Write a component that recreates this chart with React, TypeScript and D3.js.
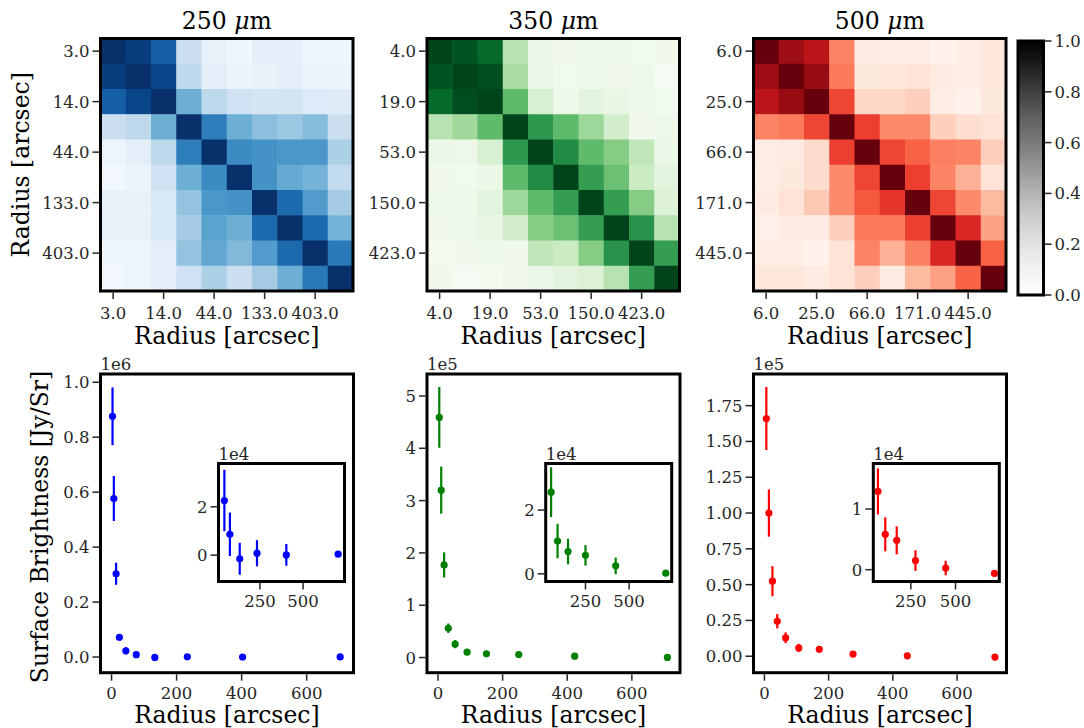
import React from 'react';
import * as d3 from 'd3';

// ---------------- DATA ----------------
const radii250 = [3, 7, 14, 24, 44, 76, 133, 233, 403, 703];
const radii350 = [4, 10, 19, 32, 53, 90, 150, 250, 423, 710];
const radii500 = [6, 14, 25, 40, 66, 107, 171, 276, 445, 718];

const sb250 = [876000, 577000, 303000, 72000, 22600, 8600, -1500, 800, 100, 400];
const err250 = [105000, 82000, 40000, 11000, 12700, 9000, 6600, 5400, 4500, 300];
const sb350 = [459000, 320000, 177000, 56000, 25600, 10300, 7000, 5800, 2500, 200];
const err350 = [58000, 45000, 24000, 9000, 7800, 5400, 4000, 3200, 2600, 200];
const sb500 = [166000, 100000, 52400, 24400, 12900, 5830, 4830, 1500, 270, -620];
const err500 = [22000, 16500, 10500, 5000, 3800, 2800, 2300, 1700, 1200, 200];

const corr250 = [
  [1.0, 0.95, 0.82, 0.22, 0.08, 0.04, 0.1, 0.09, 0.05, 0.04],
  [0.95, 1.0, 0.92, 0.27, 0.1, 0.06, 0.08, 0.1, 0.06, 0.06],
  [0.82, 0.92, 1.0, 0.5, 0.27, 0.2, 0.17, 0.18, 0.13, 0.12],
  [0.22, 0.27, 0.5, 1.0, 0.7, 0.5, 0.42, 0.38, 0.43, 0.22],
  [0.05, 0.1, 0.27, 0.7, 1.0, 0.65, 0.62, 0.6, 0.6, 0.33],
  [0.03, 0.06, 0.2, 0.5, 0.65, 1.0, 0.62, 0.52, 0.48, 0.25],
  [0.08, 0.08, 0.15, 0.4, 0.6, 0.62, 1.0, 0.78, 0.58, 0.35],
  [0.08, 0.08, 0.15, 0.35, 0.55, 0.5, 0.78, 1.0, 0.78, 0.48],
  [0.04, 0.05, 0.1, 0.4, 0.53, 0.45, 0.58, 0.78, 1.0, 0.72],
  [0.03, 0.05, 0.1, 0.2, 0.33, 0.22, 0.35, 0.5, 0.72, 1.0],
];
const corr350 = [
  [1.0, 0.95, 0.88, 0.3, 0.08, 0.05, 0.07, 0.06, 0.04, 0.05],
  [0.95, 1.0, 0.97, 0.35, 0.08, 0.04, 0.06, 0.05, 0.06, 0.02],
  [0.88, 0.97, 1.0, 0.55, 0.18, 0.07, 0.13, 0.1, 0.06, 0.04],
  [0.3, 0.37, 0.55, 1.0, 0.7, 0.55, 0.38, 0.2, 0.05, 0.06],
  [0.08, 0.07, 0.18, 0.7, 1.0, 0.75, 0.55, 0.45, 0.27, 0.08],
  [0.05, 0.04, 0.08, 0.55, 0.75, 1.0, 0.68, 0.52, 0.23, 0.13],
  [0.07, 0.07, 0.13, 0.38, 0.55, 0.68, 1.0, 0.68, 0.45, 0.16],
  [0.05, 0.06, 0.1, 0.2, 0.45, 0.52, 0.68, 1.0, 0.72, 0.3],
  [0.03, 0.05, 0.06, 0.05, 0.27, 0.23, 0.45, 0.72, 1.0, 0.68],
  [0.05, 0.02, 0.03, 0.05, 0.08, 0.13, 0.16, 0.3, 0.68, 1.0],
];
const corr500 = [
  [1.0, 0.88, 0.8, 0.42, 0.06, 0.05, 0.05, 0.02, 0.04, 0.08],
  [0.88, 1.0, 0.9, 0.45, 0.07, 0.08, 0.1, 0.06, 0.04, 0.08],
  [0.8, 0.9, 1.0, 0.6, 0.15, 0.15, 0.18, 0.05, 0.02, 0.07],
  [0.42, 0.45, 0.6, 1.0, 0.62, 0.4, 0.4, 0.18, 0.12, 0.1],
  [0.05, 0.06, 0.13, 0.62, 1.0, 0.6, 0.52, 0.43, 0.42, 0.18],
  [0.04, 0.07, 0.13, 0.4, 0.6, 1.0, 0.62, 0.42, 0.28, 0.1],
  [0.06, 0.1, 0.2, 0.4, 0.55, 0.65, 1.0, 0.6, 0.4, 0.25],
  [0.03, 0.06, 0.06, 0.18, 0.45, 0.45, 0.62, 1.0, 0.7, 0.33],
  [0.04, 0.04, 0.02, 0.1, 0.42, 0.28, 0.43, 0.7, 1.0, 0.52],
  [0.08, 0.08, 0.06, 0.1, 0.18, 0.06, 0.25, 0.33, 0.52, 1.0],
];

const titles = ['250', '350', '500'];
const colorbarTicks = [0, 0.2, 0.4, 0.6, 0.8, 1.0];
const mainXTicks = [0, 200, 400, 600];
const insetXTicks = [250, 500];
const yTicks250 = [0, 0.2, 0.4, 0.6, 0.8, 1.0];
const yTicks350 = [0, 1, 2, 3, 4, 5];
const yTicks500 = [0, 0.25, 0.5, 0.75, 1.0, 1.25, 1.5, 1.75];
const insetYTicks250 = [0, 2];
const insetYTicks350 = [0, 2];
const insetYTicks500 = [0, 1];

// ---------------- STYLE ----------------
const FONT = '"DejaVu Serif", serif';
const TICK_FS = 16.5;
const LABEL_FS = 23.5;
const TITLE_FS = 23.5;
const TICK_LEN = 6.5;
const FRAME_W = 3;
const TXT = '#262626';
const DY = 6; // vertical centring of tick labels

type PanelCfg = {
  key: string;
  hx: number;
  radii: number[];
  corr: number[][];
  interp: (t: number) => string;
  color: string;
  sb: number[];
  err: number[];
  px: number;
  xDom: [number, number];
  yDom: [number, number];
  yTicks: number[];
  yFmt: (v: number) => string;
  scale: number;
  offsetLabel: string;
  ix: number;
  ixDom: [number, number];
  iyDom: [number, number];
  iyTicks: number[];
};

const panels: PanelCfg[] = [
  {
    key: '250', hx: 100.5, radii: radii250, corr: corr250, interp: d3.interpolateBlues, color: '#0000ff',
    sb: sb250, err: err250, px: 100.5, xDom: [-34, 744], yDom: [-0.057e6, 1.03e6], yTicks: yTicks250,
    yFmt: (v) => v.toFixed(1), scale: 1e6, offsetLabel: '1e6',
    ix: 218.5, ixDom: [10, 740], iyDom: [-1.09e4, 3.79e4], iyTicks: insetYTicks250,
  },
  {
    key: '350', hx: 427, radii: radii350, corr: corr350, interp: d3.interpolateGreens, color: '#008000',
    sb: sb350, err: err350, px: 427, xDom: [-34, 749], yDom: [-0.29e5, 5.42e5], yTicks: yTicks350,
    yFmt: (v) => v.toFixed(0), scale: 1e5, offsetLabel: '1e5',
    ix: 545.7, ixDom: [22, 744], iyDom: [-0.24e4, 3.46e4], iyTicks: insetYTicks350,
  },
  {
    key: '500', hx: 753.5, radii: radii500, corr: corr500, interp: d3.interpolateReds, color: '#ff0000',
    sb: sb500, err: err500, px: 753.5, xDom: [-34, 754], yDom: [-0.115e5, 1.971e5], yTicks: yTicks500,
    yFmt: (v) => v.toFixed(2), scale: 1e5, offsetLabel: '1e5',
    ix: 873.3, ixDom: [40, 745], iyDom: [-0.195e4, 1.75e4], iyTicks: insetYTicks500,
  },
];

const HM_Y = 38.5;
const HM_SIZE = 252.5;
const P_Y0 = 374;
const P_Y1 = 672.7;
const P_W = 253;
const I_Y0 = 463.5;
const I_Y1 = 581.5;
const I_W = 126;

function Heatmap({ p, idx }: { p: PanelCfg; idx: number }) {
  const n = p.radii.length;
  const band = d3.scaleBand<number>().domain(d3.range(n)).range([p.hx, p.hx + HM_SIZE]);
  const bandY = d3.scaleBand<number>().domain(d3.range(n)).range([HM_Y, HM_Y + HM_SIZE]);
  const bw = band.bandwidth();
  const tickIdx = d3.range(0, n, 2);
  return (
    <g>
      {p.corr.map((row, r) =>
        row.map((v, c) => (
          <rect key={`${r}-${c}`} x={band(c)!} y={bandY(r)!} width={bw + 0.5} height={bandY.bandwidth() + 0.5}
            fill={p.interp(v)} />
        ))
      )}
      <rect x={p.hx} y={HM_Y} width={HM_SIZE} height={HM_SIZE} fill="none" stroke="#000" strokeWidth={FRAME_W} />
      {tickIdx.map((i) => {
        const cx = band(i)! + bw / 2;
        const cy = bandY(i)! + bw / 2;
        return (
          <g key={i}>
            <line x1={cx} x2={cx} y1={HM_Y + HM_SIZE + 1.5} y2={HM_Y + HM_SIZE + 1.5 + TICK_LEN} stroke={TXT} strokeWidth={1.5} />
            <text x={cx} y={HM_Y + HM_SIZE + 27.5} textAnchor="middle" fontSize={TICK_FS} fill={TXT}>{p.radii[i].toFixed(1)}</text>
            <line x1={p.hx - 1.5} x2={p.hx - 1.5 - TICK_LEN} y1={cy} y2={cy} stroke={TXT} strokeWidth={1.5} />
            <text x={p.hx - 1.5 - TICK_LEN - 3} y={cy + DY} textAnchor="end" fontSize={TICK_FS} fill={TXT}>{p.radii[i].toFixed(1)}</text>
          </g>
        );
      })}
      <text x={p.hx + HM_SIZE / 2} y={29} textAnchor="middle" fontSize={TITLE_FS} fill="#000">
        {titles[idx]} <tspan fontStyle="italic">μ</tspan>m
      </text>
      <text x={p.hx + HM_SIZE / 2} y={344} textAnchor="middle" fontSize={LABEL_FS} fill="#000">Radius [arcsec]</text>
    </g>
  );
}

function Profile({ p }: { p: PanelCfg }) {
  const x = d3.scaleLinear().domain(p.xDom).range([p.px, p.px + P_W]);
  const y = d3.scaleLinear().domain(p.yDom).range([P_Y1, P_Y0]);
  const ix = d3.scaleLinear().domain(p.ixDom).range([p.ix, p.ix + I_W]);
  const iy = d3.scaleLinear().domain(p.iyDom).range([I_Y1, I_Y0]);
  const inset = p.radii.map((r, i) => i).filter((i) => i >= 4);
  return (
    <g>
      {p.radii.map((r, i) => (
        <g key={i}>
          <line x1={x(r)} x2={x(r)} y1={y(p.sb[i] - p.err[i])} y2={y(p.sb[i] + p.err[i])} stroke={p.color} strokeWidth={2.2} />
          <circle cx={x(r)} cy={y(p.sb[i])} r={3.6} fill={p.color} />
        </g>
      ))}
      <rect x={p.px} y={P_Y0} width={P_W} height={P_Y1 - P_Y0} fill="none" stroke="#000" strokeWidth={FRAME_W} />
      {mainXTicks.map((t) => (
        <g key={t}>
          <line x1={x(t)} x2={x(t)} y1={P_Y1 + 1.5} y2={P_Y1 + 1.5 + TICK_LEN} stroke={TXT} strokeWidth={1.5} />
          <text x={x(t)} y={P_Y1 + 26} textAnchor="middle" fontSize={TICK_FS} fill={TXT}>{t}</text>
        </g>
      ))}
      {p.yTicks.map((t) => (
        <g key={t}>
          <line x1={p.px - 1.5} x2={p.px - 1.5 - TICK_LEN} y1={y(t * p.scale)} y2={y(t * p.scale)} stroke={TXT} strokeWidth={1.5} />
          <text x={p.px - 1.5 - TICK_LEN - 3} y={y(t * p.scale) + DY} textAnchor="end" fontSize={TICK_FS} fill={TXT}>{p.yFmt(t)}</text>
        </g>
      ))}
      <text x={p.px} y={P_Y0 - 4} fontSize={TICK_FS} fill={TXT}>{p.offsetLabel}</text>
      <text x={p.px + P_W / 2} y={723} textAnchor="middle" fontSize={LABEL_FS} fill="#000">Radius [arcsec]</text>

      {/* inset */}
      <rect x={p.ix} y={I_Y0} width={I_W} height={I_Y1 - I_Y0} fill="#fff" />
      {inset.map((i) => (
        <g key={i}>
          <line x1={ix(p.radii[i])} x2={ix(p.radii[i])} y1={iy(p.sb[i] - p.err[i])} y2={iy(p.sb[i] + p.err[i])} stroke={p.color} strokeWidth={2.2} />
          <circle cx={ix(p.radii[i])} cy={iy(p.sb[i])} r={3.6} fill={p.color} />
        </g>
      ))}
      <rect x={p.ix} y={I_Y0} width={I_W} height={I_Y1 - I_Y0} fill="none" stroke="#000" strokeWidth={FRAME_W} />
      {insetXTicks.map((t) => (
        <g key={t}>
          <line x1={ix(t)} x2={ix(t)} y1={I_Y1 + 1.5} y2={I_Y1 + 1.5 + TICK_LEN} stroke={TXT} strokeWidth={1.5} />
          <text x={ix(t)} y={I_Y1 + 25} textAnchor="middle" fontSize={TICK_FS} fill={TXT}>{t}</text>
        </g>
      ))}
      {p.iyTicks.map((t) => (
        <g key={t}>
          <line x1={p.ix - 1.5} x2={p.ix - 1.5 - TICK_LEN} y1={iy(t * 1e4)} y2={iy(t * 1e4)} stroke={TXT} strokeWidth={1.5} />
          <text x={p.ix - 1.5 - TICK_LEN - 3} y={iy(t * 1e4) + DY} textAnchor="end" fontSize={TICK_FS} fill={TXT}>{t}</text>
        </g>
      ))}
      <text x={p.ix} y={I_Y0 - 4} fontSize={TICK_FS} fill={TXT}>1e4</text>
    </g>
  );
}

function Colorbar() {
  const x0 = 1018, w = 25.5, y0 = 41, y1 = 295;
  const s = d3.scaleLinear().domain([0, 1]).range([y1, y0]);
  const stops = d3.range(0, 1.0001, 0.1);
  return (
    <g>
      <defs>
        <linearGradient id="greys" x1="0" y1="1" x2="0" y2="0">
          {stops.map((t) => (
            <stop key={t} offset={`${t * 100}%`} stopColor={d3.interpolateGreys(t)} />
          ))}
        </linearGradient>
      </defs>
      <rect x={x0} y={y0} width={w} height={y1 - y0} fill="url(#greys)" stroke="#000" strokeWidth={FRAME_W} />
      {colorbarTicks.map((t) => (
        <g key={t}>
          <line x1={x0 + w + 1.5} x2={x0 + w + 1.5 + TICK_LEN} y1={s(t)} y2={s(t)} stroke={TXT} strokeWidth={1.5} />
          <text x={x0 + w + 1.5 + TICK_LEN + 3} y={s(t) + DY} fontSize={TICK_FS} fill={TXT}>{t.toFixed(1)}</text>
        </g>
      ))}
    </g>
  );
}

export default function App() {
  return (
    <svg width={1084} height={728} style={{ position: 'absolute', left: 0, top: 0, background: '#fff' }}
      fontFamily={FONT}>
      <rect x={0} y={0} width={1084} height={728} fill="#fff" />
      {panels.map((p, i) => <Heatmap key={p.key} p={p} idx={i} />)}
      {panels.map((p) => <Profile key={p.key} p={p} />)}
      <Colorbar />
      <text transform={`translate(29,${HM_Y + HM_SIZE / 2}) rotate(-90)`} textAnchor="middle" fontSize={LABEL_FS} fill="#000">Radius [arcsec]</text>
      <text transform={`translate(48,527) rotate(-90)`} textAnchor="middle" fontSize={LABEL_FS} fill="#000">Surface Brightness [Jy/Sr]</text>
    </svg>
  );
}
